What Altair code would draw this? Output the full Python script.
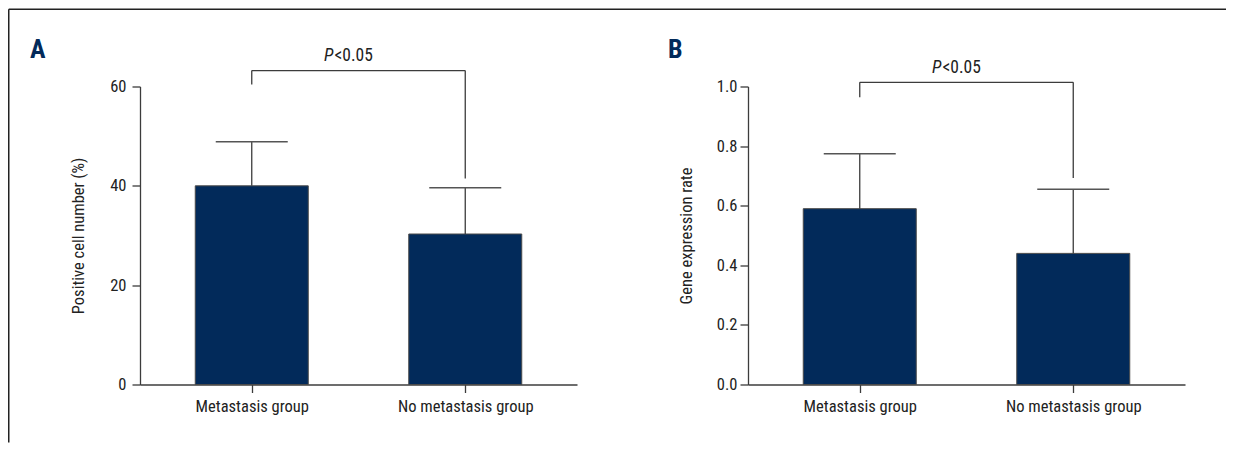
import altair as alt
import pandas as pd

# ---- data ----
groups = ["Metastasis group", "No metastasis group"]

a_mean = [40.0, 30.3]
a_sd = [8.9, 9.3]
a_ticks = [0, 20, 40, 60]
a_title = "Positive cell number (%)"
a_bracket = [63.2, 60.4, 41.5]   # bar height of bracket, left leg end, right leg end
a_ptext = 65.2

b_mean = [0.59, 0.44]
b_sd = [0.184, 0.215]
b_ticks = [0.0, 0.2, 0.4, 0.6, 0.8, 1.0]
b_title = "Gene expression rate"
b_bracket = [1.014, 0.964, 0.693]
b_ptext = 1.044

p_label = ["P", "<0.05"]
panel_letters = ["A", "B"]

# ---- styling ----
FONT = "Roboto Condensed, Liberation Sans Narrow, Roboto, sans-serif"
NAVY = "#022a5a"
LINE = "#3c3c3c"
TEXT = "#222222"
W, H = 437, 298

label_expr = "[" + ",".join("'" + g + "'" for g in groups) + "][datum.value]"


def panel(mean, sd, ticks, fmt, title, bracket, ptext, letter, letter_dx, label_pad, border):
    n = len(groups)
    df = pd.DataFrame({
        "pos": list(range(n)),
        "group": groups,
        "mean": mean,
        "top": [m + s for m, s in zip(mean, sd)],
    })
    xscale = alt.Scale(domain=[-0.5, n - 0.5], nice=False, zero=False)
    yscale = alt.Scale(domain=[ticks[0], ticks[-1]], nice=False, zero=False)

    x_axis = alt.Axis(values=list(range(n)), labelExpr=label_expr, title="", grid=False,
                      tickSize=8, labelPadding=6, labelFont=FONT, labelFontSize=16.5,
                      labelColor=TEXT, domainColor=LINE, tickColor=LINE,
                      domainWidth=1.3, tickWidth=1.3)
    y_axis = alt.Axis(values=ticks, format=fmt, title=title, grid=False, tickSize=8,
                      labelPadding=label_pad, labelFont=FONT, labelFontSize=16.5,
                      labelColor=TEXT, domainColor=LINE, tickColor=LINE,
                      domainWidth=1.3, tickWidth=1.3,
                      titleFont=FONT, titleFontSize=16.5, titleFontWeight="normal",
                      titleColor=TEXT, titleAngle=270, titleAlign="center",
                      titleBaseline="middle", titleX=-62, titleY=H / 2)

    X = lambda f: alt.X(f, scale=xscale, axis=x_axis)
    Y = lambda f: alt.Y(f, scale=yscale, axis=y_axis)

    base = alt.Chart(df)
    bars = base.mark_bar(size=113, color=NAVY, stroke="#4a4a4a", strokeWidth=1).encode(
        x=X("pos:Q"), y=Y("mean:Q"))
    err = base.mark_rule(color=LINE, strokeWidth=1.3).encode(
        x=X("pos:Q"), y=Y("mean:Q"), y2="top:Q")
    cap = base.mark_tick(orient="horizontal", size=72, thickness=1.5, color="#555555",
                         opacity=1).encode(x=X("pos:Q"), y=Y("top:Q"))

    br = pd.DataFrame({
        "pos": [0, 0, n - 1],
        "pos2": [n - 1, 0, n - 1],
        "mean": [bracket[0]] * 3,
        "mean2": [bracket[0], bracket[1], bracket[2]],
    })
    brk = alt.Chart(br).mark_rule(color=LINE, strokeWidth=1.3).encode(
        x=X("pos:Q"), x2="pos2:Q", y=Y("mean:Q"), y2="mean2:Q")

    pt = pd.DataFrame({"pos": [(n - 1) / 2], "mean": [ptext]})
    p1 = alt.Chart(pt).mark_text(text=p_label[0], align="right", baseline="alphabetic",
                                 dx=-25, font=FONT, fontSize=17.5, fontStyle="italic",
                                 color=TEXT).encode(x=X("pos:Q"), y=Y("mean:Q"))
    p2 = alt.Chart(pt).mark_text(text=p_label[1], align="left", baseline="alphabetic",
                                 dx=-24, font=FONT, fontSize=17.5,
                                 color=TEXT).encode(x=X("pos:Q"), y=Y("mean:Q"))

    one = pd.DataFrame({"d": [0]})
    let = alt.Chart(one).mark_text(text=letter, align="left", baseline="alphabetic",
                                   font=FONT, fontSize=26, fontWeight="bold",
                                   color=NAVY).encode(
        x=alt.value(letter_dx), y=alt.value(-28.5))

    layers = [bars, err, cap, brk, p1, p2, let]
    if border:
        top = alt.Chart(one).mark_rule(color="#222222", strokeWidth=1.5).encode(
            x=alt.value(-131.25), x2=alt.value(1086), y=alt.value(-77.2))
        left = alt.Chart(one).mark_rule(color="#222222", strokeWidth=1.5).encode(
            x=alt.value(-131.25), y=alt.value(-77.2), y2=alt.value(356))
        layers += [top, left]
    return alt.layer(*layers).properties(width=W, height=H)


chart_a = panel(a_mean, a_sd, a_ticks, "d", a_title, a_bracket, a_ptext,
                panel_letters[0], -110, 6, True)
chart_b = panel(b_mean, b_sd, b_ticks, ".1f", b_title, b_bracket, b_ptext,
                panel_letters[1], -80, 3, False)

chart = alt.hconcat(chart_a, chart_b, spacing=171, bounds="flush").properties(
    padding={"left": 0, "top": 0.5, "right": 0, "bottom": 0},
    background="white",
).configure_view(strokeWidth=0)

chart.save("out.html", embed_options={"renderer": "svg", "actions": False})
